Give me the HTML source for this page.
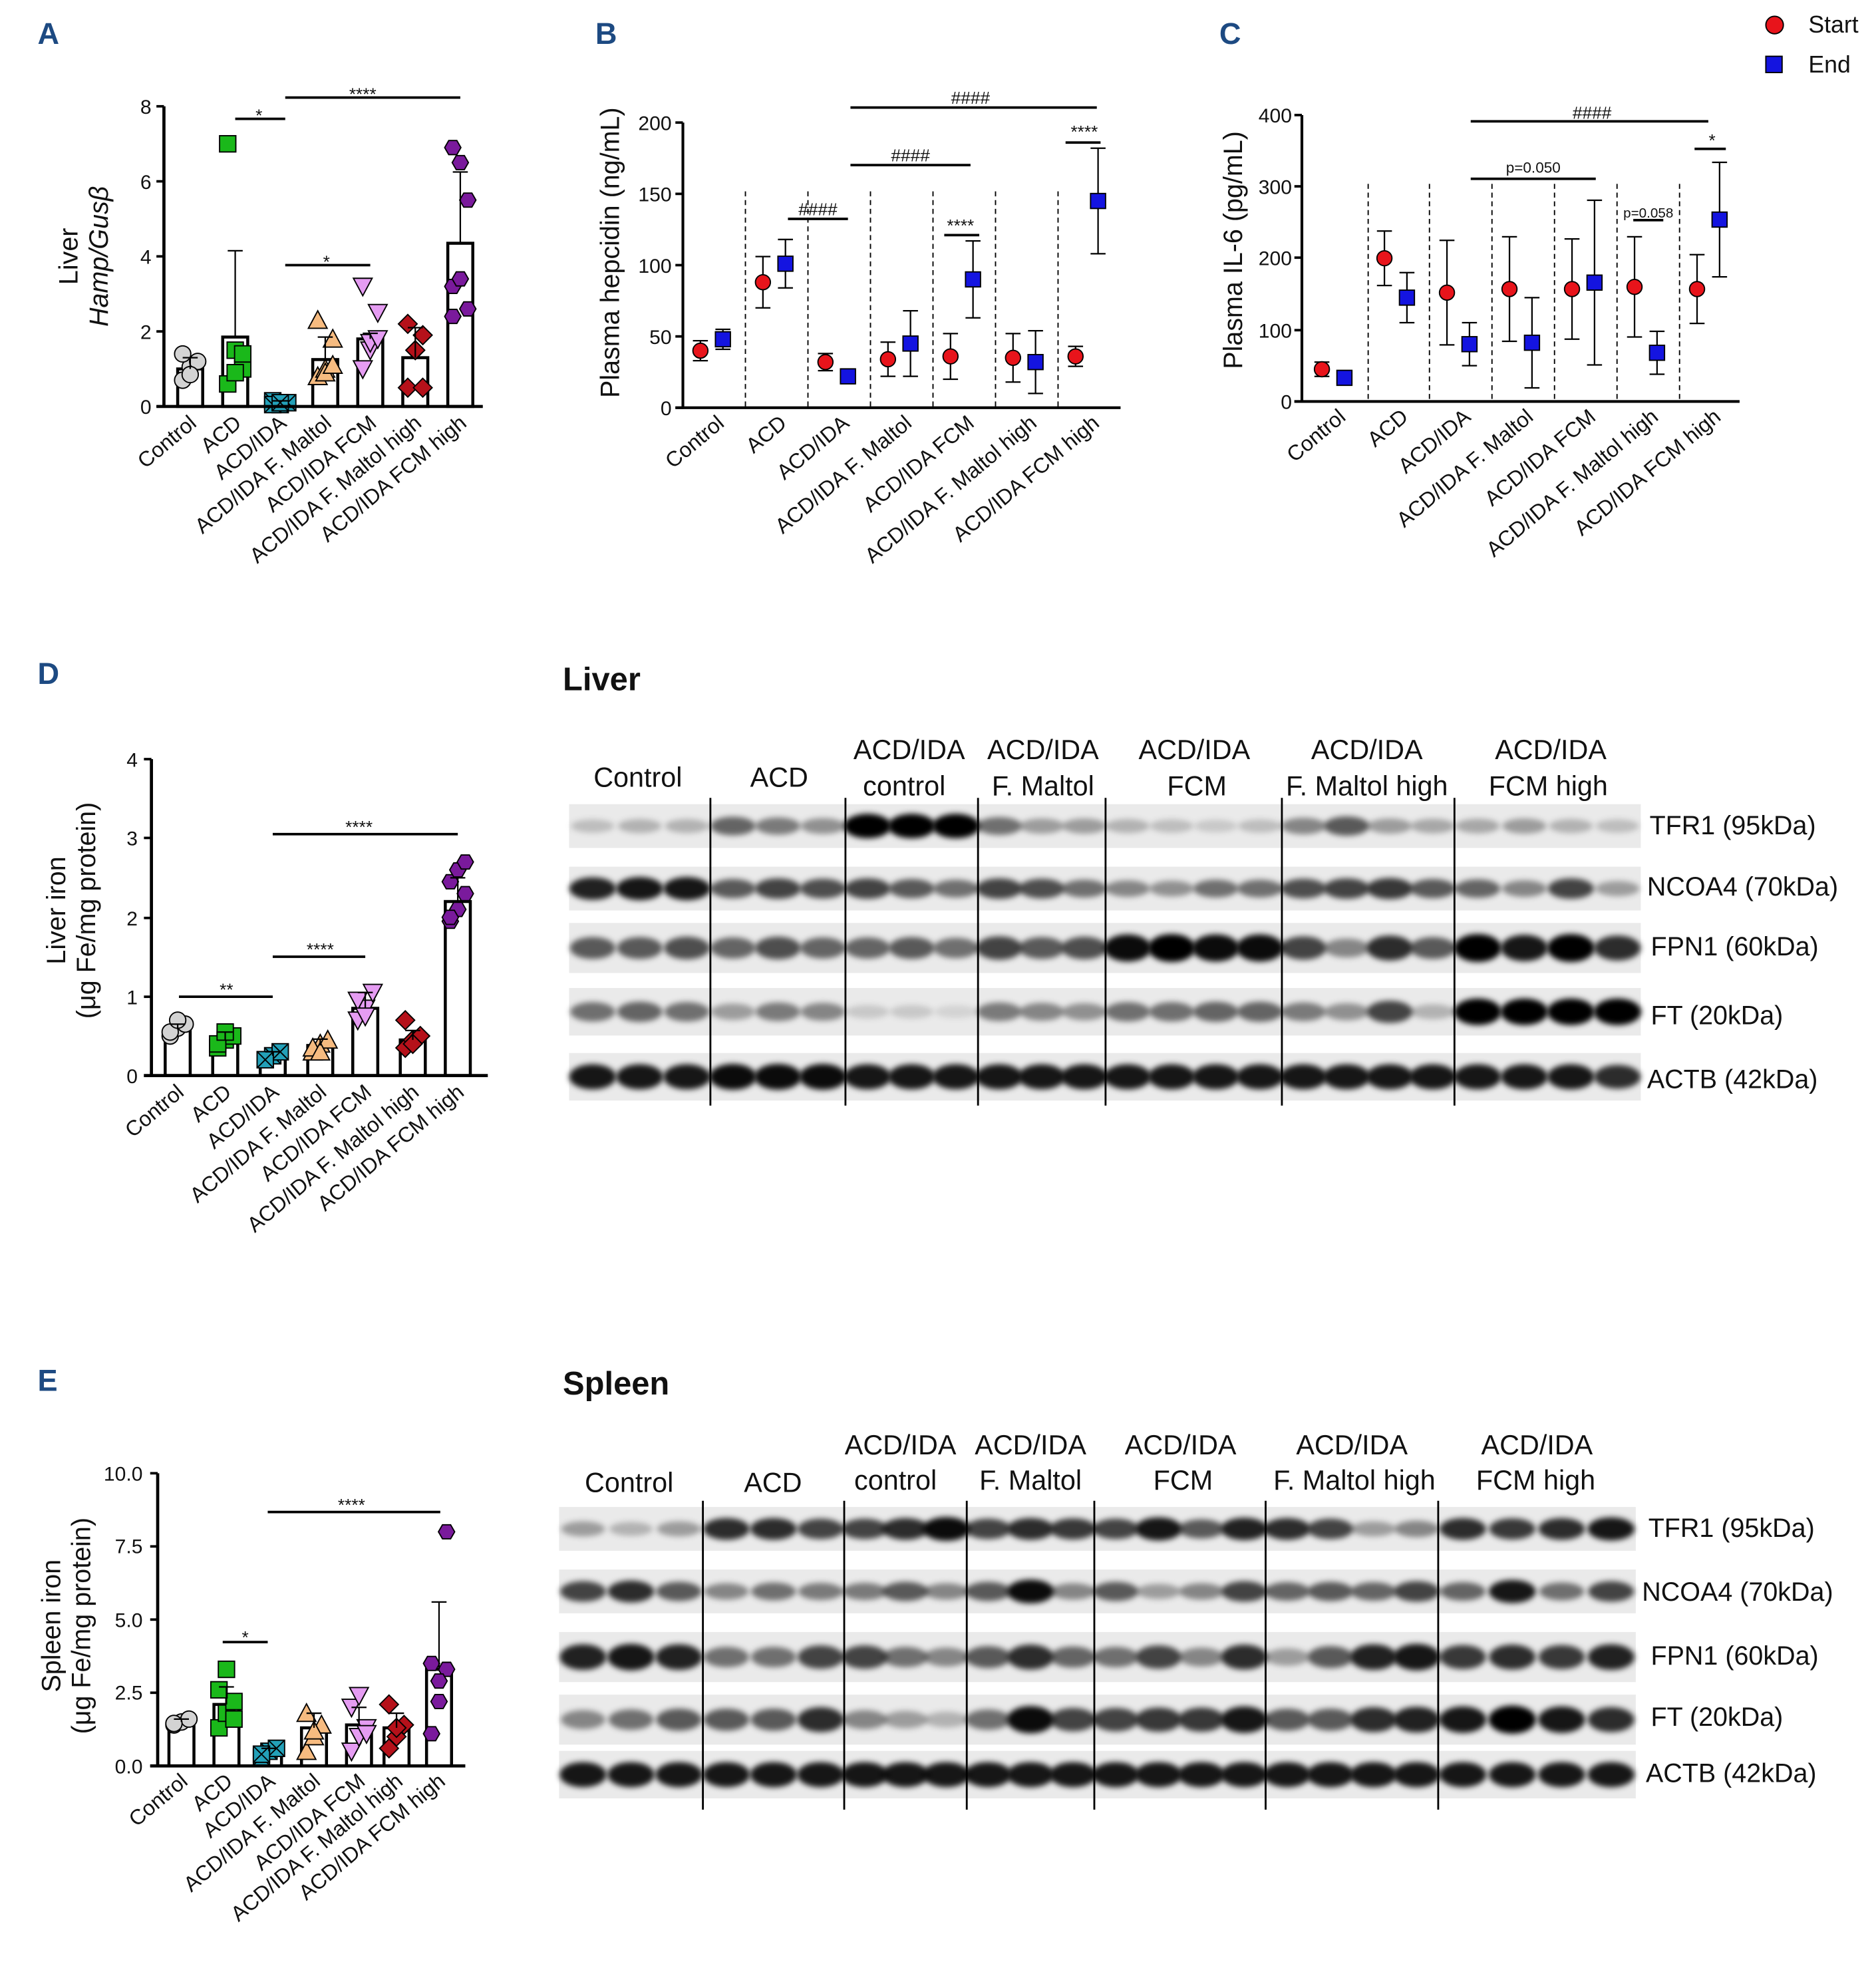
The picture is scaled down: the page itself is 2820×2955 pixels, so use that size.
<!DOCTYPE html>
<html><head><meta charset="utf-8"><style>
html,body{margin:0;padding:0;background:#fff}
svg{display:block}
text{font-family:"Liberation Sans",Arial,sans-serif;fill:#111}
</style></head><body>
<svg id="s" width="2820" height="2955" viewBox="0 0 1500 1572" xmlns="http://www.w3.org/2000/svg">
<defs><filter id="bl" x="-20%" y="-50%" width="140%" height="200%"><feGaussianBlur stdDeviation="2.2"/></filter></defs>
<g id="g"></g>
<g font-weight="bold" font-size="24">
<text x="30" y="35" style="fill:#1d4a82">A</text>
<text x="476" y="35" style="fill:#1d4a82">B</text>
<text x="975" y="35" style="fill:#1d4a82">C</text>
<text x="30" y="547" style="fill:#1d4a82">D</text>
<text x="30" y="1112" style="fill:#1d4a82">E</text>
</g>
<g font-size="16" text-anchor="end">
<text x="121" y="331">0</text><text x="121" y="271">2</text><text x="121" y="211">4</text><text x="121" y="151">6</text><text x="121" y="91">8</text>
<text x="537" y="332">0</text><text x="537" y="275">50</text><text x="537" y="218">100</text><text x="537" y="161">150</text><text x="537" y="104">200</text>
<text x="1033" y="327">0</text><text x="1033" y="270">100</text><text x="1033" y="212">200</text><text x="1033" y="155">300</text><text x="1033" y="98">400</text>
<text x="110" y="866">0</text><text x="110" y="803">1</text><text x="110" y="740">2</text><text x="110" y="676">3</text><text x="110" y="613">4</text>
<text x="114" y="1418">0.0</text><text x="114" y="1359">2.5</text><text x="114" y="1301">5.0</text><text x="114" y="1242">7.5</text><text x="114" y="1184">10.0</text>
</g>
<g font-size="21" text-anchor="middle">
<text transform="translate(62,205) rotate(-90)">Liver</text>
<text transform="translate(86,205) rotate(-90)" font-style="italic">Hamp/Gusβ</text>
<text transform="translate(495,202) rotate(-90)">Plasma hepcidin (ng/mL)</text>
<text transform="translate(993,200) rotate(-90)">Plasma IL-6 (pg/mL)</text>
<text transform="translate(52,728) rotate(-90)">Liver iron</text>
<text transform="translate(76,728) rotate(-90)">(μg Fe/mg protein)</text>
<text transform="translate(48,1300) rotate(-90)">Spleen iron</text>
<text transform="translate(72,1300) rotate(-90)">(μg Fe/mg protein)</text>
</g>
<g font-size="14" text-anchor="middle">
<text x="207" y="97">*</text><text x="290" y="80">****</text><text x="261" y="214">*</text>
<text x="654" y="172">####</text><text x="728" y="129">####</text><text x="776" y="83">####</text>
<text x="768" y="185">****</text><text x="867" y="110">****</text>
<text x="1273" y="95">####</text><text x="1226" y="138" font-size="12">p=0.050</text><text x="1318" y="174" font-size="11">p=0.058</text><text x="1369" y="117">*</text>
<text x="181" y="796">**</text><text x="256" y="764">****</text><text x="287" y="666">****</text>
<text x="196" y="1314">*</text><text x="281" y="1208">****</text>
</g>
<circle cx="1419" cy="20" r="7" fill="#e8141b" stroke="#000" stroke-width="1"/>
<rect x="1412" y="45" width="13" height="13" fill="#1414e0" stroke="#000" stroke-width="1"/>
<text x="1446" y="26" font-size="19">Start</text><text x="1446" y="58" font-size="19">End</text>
<g font-size="17" text-anchor="end" id="cats"></g>
<text x="450" y="552" font-size="26" font-weight="bold">Liver</text>
<text x="450" y="1115" font-size="26" font-weight="bold">Spleen</text>
<g font-size="22" text-anchor="middle">
<text x="510" y="629">Control</text><text x="623" y="629">ACD</text>
<text x="727" y="607">ACD/IDA</text><text x="723" y="636">control</text>
<text x="834" y="607">ACD/IDA</text><text x="834" y="636">F. Maltol</text>
<text x="955" y="607">ACD/IDA</text><text x="957" y="636">FCM</text>
<text x="1093" y="607">ACD/IDA</text><text x="1093" y="636">F. Maltol high</text>
<text x="1240" y="607">ACD/IDA</text><text x="1238" y="636">FCM high</text>
<text x="503" y="1193">Control</text><text x="618" y="1193">ACD</text>
<text x="720" y="1163">ACD/IDA</text><text x="716" y="1191">control</text>
<text x="824" y="1163">ACD/IDA</text><text x="824" y="1191">F. Maltol</text>
<text x="944" y="1163">ACD/IDA</text><text x="946" y="1191">FCM</text>
<text x="1081" y="1163">ACD/IDA</text><text x="1083" y="1191">F. Maltol high</text>
<text x="1229" y="1163">ACD/IDA</text><text x="1228" y="1191">FCM high</text>
</g>
<g font-size="21">
<text x="1319" y="667">TFR1 (95kDa)</text><text x="1317" y="716">NCOA4 (70kDa)</text><text x="1320" y="764">FPN1 (60kDa)</text><text x="1320" y="819">FT (20kDa)</text><text x="1317" y="870">ACTB (42kDa)</text>
<text x="1318" y="1229">TFR1 (95kDa)</text><text x="1313" y="1280">NCOA4 (70kDa)</text><text x="1320" y="1331">FPN1 (60kDa)</text><text x="1320" y="1380">FT (20kDa)</text><text x="1316" y="1425">ACTB (42kDa)</text>
</g>
</svg>
<script>
var NS="http://www.w3.org/2000/svg",G=document.getElementById("g");
function el(t,a,p){var e=document.createElementNS(NS,t);for(var k in a)e.setAttribute(k,a[k]);(p||G).appendChild(e);return e;}
function line(x1,y1,x2,y2,w){el("line",{x1:x1,y1:y1,x2:x2,y2:y2,stroke:"#000","stroke-width":w||2});}
var cols=["#d3d3d3","#1ab81a","#23a0b8","#f6bb80","#e59cf2","#b5111a","#7a1a9c"];
function marker(k,x,y){var c=cols[k],s=6.5,a={fill:c,stroke:"#000","stroke-width":1};
 if(k==0)el("circle",Object.assign({cx:x,cy:y,r:s},a));
 else if(k==1||k==2){el("rect",Object.assign({x:x-s,y:y-s,width:2*s,height:2*s},a));if(k==2){line(x-s,y-s,x+s,y+s,1);line(x-s,y+s,x+s,y-s,1);}}
 else if(k==3)el("polygon",Object.assign({points:[x,y-s-1,x+s+1,y+s,x-s-1,y+s].join(" ")},a));
 else if(k==4)el("polygon",Object.assign({points:[x-s-1,y-s,x+s+1,y-s,x,y+s+1].join(" ")},a));
 else if(k==5)el("polygon",Object.assign({points:[x,y-s-1,x+s+1,y,x,y+s+1,x-s-1,y].join(" ")},a));
 else {var p=[];for(var i=0;i<6;i++){var t=Math.PI/3*i;p.push(x+s*Math.cos(t),y+s*Math.sin(t));}el("polygon",Object.assign({points:p.join(" ")},a));}
}
function barPanel(P){
 var sc=(P.y0-P.y1)/P.max;function Y(v){return P.y0-v*sc;}
 P.c.forEach(function(cx,i){var m=P.m[i],sd=P.sd[i];
  el("rect",{x:cx-10,y:Y(m),width:20,height:P.y0-Y(m),fill:"#fff",stroke:"#000","stroke-width":2.4});
  P.pts[i].forEach(function(v,j){marker(i,cx+((j%3)-1)*6,Y(v));});
  line(cx,Y(m),cx,Y(m+sd),1.2);line(cx-6,Y(m+sd),cx+6,Y(m+sd),1.2);
 });
 line(P.x0,P.y1,P.x0,P.y0+1,2.5);line(P.x0-6,P.y0,P.x1,P.y0,2.5);
 P.t.forEach(function(t){line(P.x0-6,t,P.x0,t,2);});
 P.sig.forEach(function(s){line(s[0],s[2],s[1],s[2],2);});
}
var cats=["Control","ACD","ACD/IDA","ACD/IDA F. Maltol","ACD/IDA FCM","ACD/IDA F. Maltol high","ACD/IDA FCM high"];
var CG=document.getElementById("cats");
function catLabels(cs,y,dx){cs.forEach(function(cx,i){var t=el("text",{transform:"translate("+(cx+dx)+","+y+") rotate(-40)"},CG);t.textContent=cats[i];});}
barPanel({x0:131,x1:386,y0:325,y1:85,max:8,t:[325,265,205,145,85],c:[152,188,224,260,296,332,368],
 m:[1.0,1.85,0.1,1.25,1.8,1.3,4.35],sd:[0.3,2.3,0.05,0.6,0.15,0.8,1.9],
 pts:[[0.7,1.05,1.2,1.4,0.85],[7.0,1.5,1.0,0.6,0.9,1.4],[0.15,0.05,0.1,0.05,0.1],[0.8,1.0,1.8,2.3,0.9,1.1],[1.0,1.5,2.5,3.2,1.7,1.8],[0.5,1.5,1.9,2.2,1.5,0.5],[6.9,6.5,5.5,3.2,3.4,2.6,2.4]],
 sig:[[188,228,95],[228,368,78],[228,296,212]]});
catLabels([152,188,224,260,296,332,368],340,6);
barPanel({x0:121,x1:390,y0:860,y1:607,max:4,t:[860,797,734,670,607],c:[142,180,218,256,292,330,366],
 m:[0.6,0.45,0.25,0.38,0.85,0.45,2.2],sd:[0.05,0.1,0.05,0.08,0.2,0.12,0.3],
 pts:[[0.5,0.6,0.65,0.55,0.7],[0.35,0.45,0.5,0.4,0.55],[0.2,0.25,0.3,0.2],[0.3,0.4,0.45,0.35,0.3],[0.7,0.85,1.05,0.95,0.75],[0.35,0.45,0.5,0.7,0.4],[1.95,2.1,2.3,2.45,2.6,2.7,2.0]],
 sig:[[143,218,797],[218,292,765],[218,366,667]]});
catLabels([142,180,218,256,292,330,366],875,6);
barPanel({x0:126,x1:372,y0:1412,y1:1178,max:10,t:[1412,1353.5,1295,1236.5,1178],c:[145,181,215,251,287,317,351],
 m:[1.5,2.1,0.5,1.3,1.4,1.3,3.3],sd:[0.1,0.6,0.1,0.5,0.6,0.5,2.3],
 pts:[[1.4,1.5,1.6,1.45],[1.3,1.8,2.2,2.6,3.3,1.6],[0.3,0.5,0.6,0.4],[0.5,1.0,1.4,1.8,1.2],[0.5,1.0,1.3,2.0,2.4,1.1],[0.6,1.0,1.4,2.1,1.3],[1.1,2.2,3.3,3.5,2.9,8.0]],
 sig:[[178,214,1313],[214,352,1209]]});
catLabels([145,181,215,251,287,317,351],1426,6);
function ptPanel(P){
 var sc=(P.y0-P.y1)/P.max;function Y(v){return P.y0-v*sc;}
 line(P.x0,P.y1,P.x0,P.y0+1,2.2);line(P.x0-6,P.y0,P.x1,P.y0,2.2);
 P.t.forEach(function(t){line(P.x0-6,t,P.x0,t,2);});
 P.div.forEach(function(x){el("line",{x1:x,y1:P.y1+55,x2:x,y2:P.y0,stroke:"#000","stroke-width":1,"stroke-dasharray":"4,3"});});
 P.c.forEach(function(cx,i){
  [[cx-10,P.s[i],P.ss[i],0],[cx+8,P.e[i],P.es[i],1]].forEach(function(d){var x=d[0],v=d[1],sd=d[2];
   line(x,Y(v-sd),x,Y(v+sd),1.2);line(x-6,Y(v+sd),x+6,Y(v+sd),1.2);line(x-6,Y(v-sd),x+6,Y(v-sd),1.2);
   if(d[3]==0)el("circle",{cx:x,cy:Y(v),r:6,fill:"#e8141b",stroke:"#000","stroke-width":1});
   else el("rect",{x:x-6,y:Y(v)-6,width:12,height:12,fill:"#1414e0",stroke:"#000","stroke-width":1});
  });
 });
 P.sig.forEach(function(s){line(s[0],s[2],s[1],s[2],2);});
}
ptPanel({x0:546,x1:896,y0:326,y1:98,max:200,t:[326,269,212,155,98],div:[596,646,696,746,796,846],c:[570,620,670,720,770,820,870],
 s:[40,88,32,34,36,35,36],ss:[7,18,6,12,16,17,7],e:[48,101,22,45,90,32,145],es:[7,17,4,23,27,22,37],
 sig:[[630,678,175],[680,776,132],[680,877,86],[755,783,188],[852,880,114]]});
catLabels([570,620,670,720,770,820,870],340,10);
ptPanel({x0:1041,x1:1391,y0:321,y1:92,max:400,t:[321,264,206,149,92],div:[1094,1143,1193,1243,1293,1343],c:[1067,1117,1167,1217,1267,1317,1367],
 s:[45,200,152,157,157,160,157],ss:[10,38,73,73,70,70,48],e:[33,145,80,82,166,68,254],es:[5,35,30,63,115,30,80],
 sig:[[1176,1366,97],[1176,1276,143],[1306,1330,176],[1355,1380,119]]});
catLabels([1067,1117,1167,1217,1267,1317,1367],335,10);
function blot(B){
 var lanes=[];B.g.forEach(function(gr){var w=(gr[1]-gr[0])/gr[2];for(var i=0;i<gr[2];i++)lanes.push(gr[0]+w*(i+.5));});
 B.rows.forEach(function(r){
  el("rect",{x:B.x0,y:r[0],width:B.x1-B.x0,height:r[1]-r[0],fill:"#eaeaea"});
  var h=r[1]-r[0],cy=(r[0]+r[1])/2;
  lanes.forEach(function(cx,i){var d=r[2][i];
   el("ellipse",{cx:cx,cy:cy,rx:17+2*d,ry:h*0.13+h*0.15*d,fill:"#000","fill-opacity":Math.min(1,d*0.95+0.05),filter:"url(#bl)"});});
 });
 B.div.forEach(function(x){line(x,B.dy[0],x,B.dy[1],1.5);});
}
blot({x0:455,x1:1312,g:[[455,568,3],[568,676,3],[676,782,3],[782,884,3],[884,1025,4],[1025,1163,4],[1163,1312,4]],
 div:[568,676,782,884,1025,1163],dy:[638,884],
 rows:[[643,678,[.15,.2,.2,.55,.45,.35,1,1,1,.5,.3,.3,.2,.15,.1,.15,.4,.6,.3,.25,.25,.3,.2,.15]],
 [693,728,[.85,.9,.9,.6,.7,.65,.7,.6,.5,.7,.65,.5,.4,.35,.5,.5,.65,.7,.75,.6,.55,.4,.7,.3]],
 [738,778,[.6,.6,.65,.55,.65,.55,.55,.6,.5,.7,.6,.65,.95,1,.95,.95,.7,.4,.8,.6,1,.9,1,.8]],
 [790,828,[.5,.55,.5,.3,.45,.4,.1,.1,.05,.45,.4,.35,.5,.5,.55,.55,.45,.35,.7,.2,1,1,1,1]],
 [842,880,[.9,.9,.9,.95,.95,.95,.9,.9,.9,.9,.9,.9,.9,.9,.9,.9,.9,.9,.9,.9,.9,.9,.9,.8]]]});
blot({x0:447,x1:1308,g:[[447,562,3],[562,675,3],[675,773,3],[773,875,3],[875,1012,4],[1012,1150,4],[1150,1308,4]],
 div:[562,675,773,875,1012,1150],dy:[1200,1447],
 rows:[[1205,1240,[.3,.2,.3,.8,.8,.7,.7,.8,.95,.7,.8,.75,.7,.9,.6,.85,.8,.7,.3,.4,.8,.75,.8,.9]],
 [1255,1290,[.7,.8,.6,.4,.5,.45,.45,.6,.4,.6,.95,.4,.6,.3,.4,.7,.55,.6,.55,.7,.55,.9,.5,.7]],
 [1305,1345,[.85,.9,.85,.5,.5,.7,.7,.5,.4,.6,.8,.55,.5,.7,.4,.8,.3,.6,.85,.9,.75,.8,.75,.85]],
 [1355,1395,[.4,.5,.6,.6,.6,.8,.4,.3,.2,.5,.95,.7,.7,.75,.75,.9,.6,.6,.8,.85,.9,1,.9,.8]],
 [1400,1438,[.9,.9,.9,.9,.9,.9,.9,.9,.9,.9,.9,.9,.9,.9,.9,.9,.9,.9,.9,.9,.9,.9,.9,.9]]]});
</script>
</body></html>
